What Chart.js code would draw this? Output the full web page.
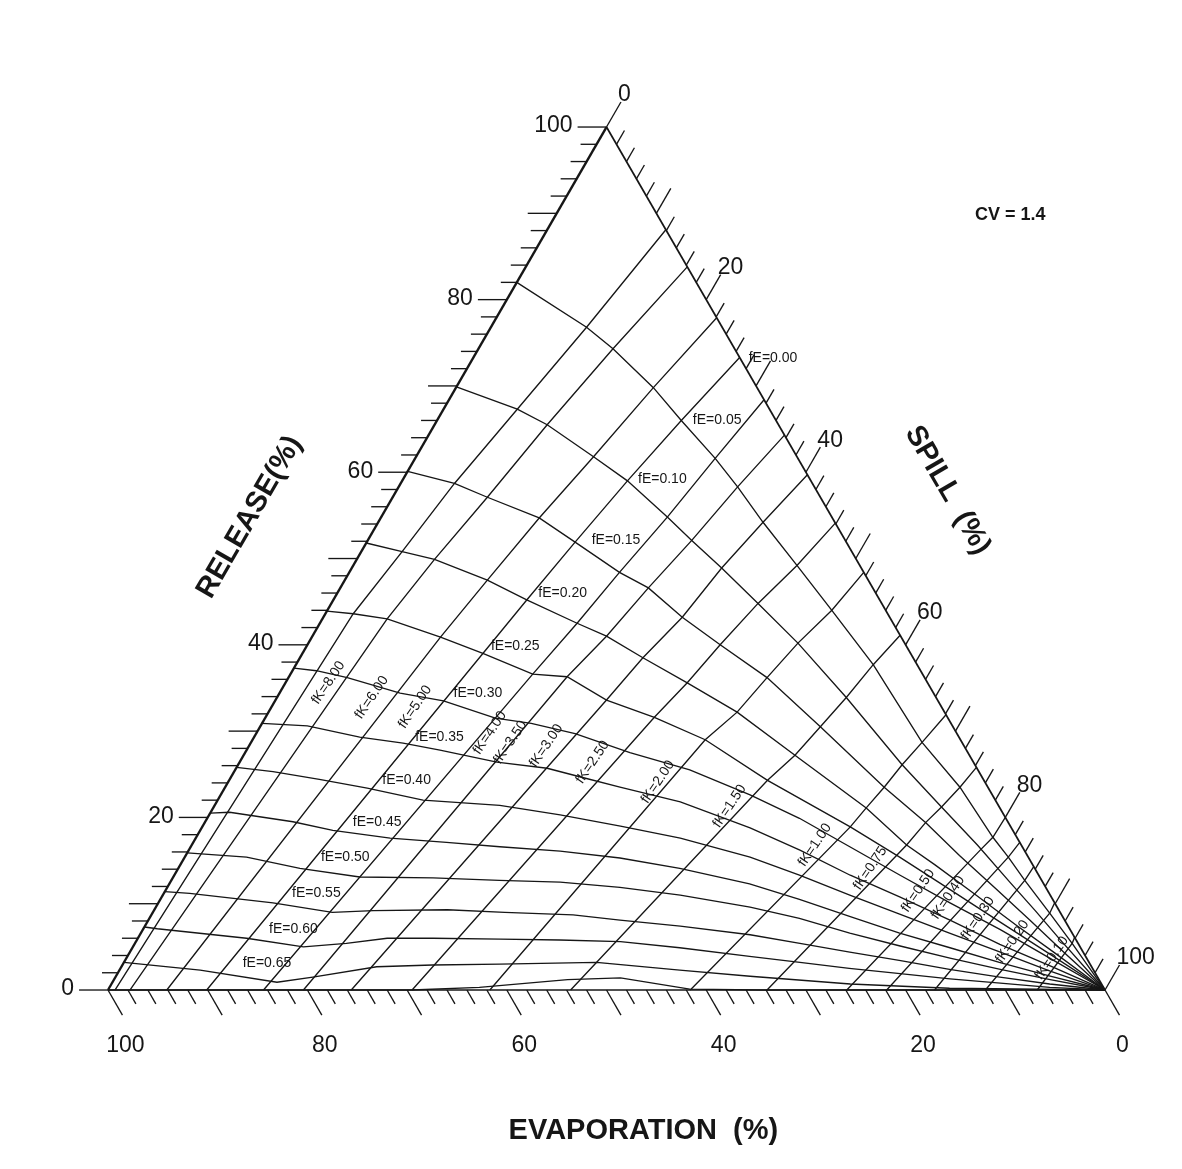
<!DOCTYPE html>
<html>
<head>
<meta charset="utf-8">
<script src="https://cdn.jsdelivr.net/npm/chart.js@4.4.1/dist/chart.umd.min.js"></script>
<style>
  html, body { margin: 0; padding: 0; background: #ffffff; }
  canvas { display: block; }
</style>
</head>
<body>
<canvas id="chart" width="1182" height="1169"></canvas>
<script>
// Ternary diagram: release / spill / evaporation shares (%) for CV = 1.4.
// Every point is [release %, spill %]; evaporation = 100 - release - spill.

const fELevels = ['0.05','0.10','0.15','0.20','0.25','0.30','0.35','0.40','0.45','0.50','0.55','0.60','0.65','0.70'];
const fKLevels = ['8.00','6.00','5.00','4.00','3.50','3.00','2.50','2.00','1.50','1.00','0.75','0.50','0.40','0.30','0.20','0.10'];
const axisTickValues = [0,2,4,6,8,10,12,14,16,18,20,22,24,26,28,30,32,34,36,38,40,42,44,46,48,50,52,54,56,58,60,62,64,66,68,70,72,74,76,78,80,82,84,86,88,90,92,94,96,98,100];
const axisLabelValues = [0, 20, 40, 60, 80, 100];

// constant-fE curves (fE = 0.00 is the evaporation = 0 side of the triangle)
const fE005 = [[82.0,0],[76.8,9.6],[74.3,13.5],[69.8,19.8],[66.0,24.5],[61.6,30.1],[58.3,34.0],[54.2,38.6],[49.2,44.5],[44.0,50.6],[37.7,57.9],[28.7,67.3],[23.5,73.7],[17.7,79.9],[15.4,82.6],[12.7,85.6],[8.9,90.0],[5.4,94.0],[0,100]];
const fE010 = [[69.9,0],[67.3,7.4],[65.5,11.3],[61.8,17.8],[59.0,22.6],[54.8,28.7],[52.1,32.5],[48.9,37.1],[44.8,42.8],[40.2,49.1],[33.9,57.1],[26.1,66.6],[21.2,73.0],[16.8,78.8],[12.5,84.2],[9.2,88.4],[5.9,92.5],[0,100]];
const fE015 = [[60.1,0],[58.7,5.4],[57.1,9.5],[54.7,15.9],[51.9,20.9],[48.4,27.1],[46.6,30.9],[43.2,36.0],[40.0,41.4],[36.2,48.0],[30.5,56.2],[23.5,66.1],[19.4,72.3],[15.6,77.6],[11.8,83.1],[8.1,88.4],[4.3,93.8],[0,100]];
const fE020 = [[51.8,0],[50.8,4.1],[49.9,7.8],[47.5,14.3],[45.2,19.4],[42.5,25.8],[41.0,29.5],[38.5,34.4],[35.6,40.3],[32.2,47.0],[27.2,55.3],[21.1,65.5],[16.8,71.7],[14.5,75.7],[11.1,81.4],[7.6,87.2],[4.3,92.8],[0,100]];
const fE025 = [[43.9,0],[43.6,2.8],[43.0,6.5],[40.9,12.9],[39.0,18.1],[36.6,24.3],[36.3,27.9],[33.6,33.2],[31.6,39.0],[29.0,45.4],[24.3,54.0],[18.9,65.0],[15.4,71.7],[11.6,78.7],[7.9,85.5],[4.1,92.5],[0,100]];
const fE030 = [[37.3,0],[37.0,2.4],[36.2,5.9],[34.4,12.1],[33.5,16.9],[31.5,23.1],[30.9,27.0],[29.7,32.0],[27.5,38.6],[25.5,45.6],[22.6,53.1],[19.9,59.4],[16.6,66.1],[13.3,72.8],[10.1,79.4],[7.0,86.0],[3.7,92.6],[0,100]];
const fE035 = [[30.9,0],[30.6,4.7],[29.3,10.6],[28.6,15.3],[27.8,19.4],[26.4,25.8],[25.7,31.2],[24.6,35.4],[23.5,39.6],[21.8,46.5],[18.8,55.0],[16.2,61.3],[13.3,67.8],[10.8,74.0],[8.1,80.4],[5.3,86.8],[2.8,93.1],[0,100]];
const fE040 = [[25.8,0],[25.3,3.9],[24.4,9.0],[23.4,14.3],[22.0,20.6],[21.4,28.6],[20.3,35.2],[19.0,41.9],[17.6,48.6],[15.4,56.7],[13.3,62.7],[11.0,68.9],[8.8,75.0],[6.6,81.1],[4.4,87.3],[2.2,93.4],[0,100]];
const fE045 = [[20.5,0],[20.6,1.9],[19.5,8.8],[18.5,13.3],[17.6,19.5],[17.1,25.4],[16.6,31.0],[16.1,37.3],[15.3,43.7],[14.1,50.3],[12.3,58.2],[10.5,64.1],[8.5,70.2],[6.6,76.1],[4.9,82.0],[3.2,87.8],[1.6,93.7],[0,100]];
const fE050 = [[15.9,0],[15.4,6.2],[14.1,12.2],[13.1,18.7],[13.0,26.1],[12.7,32.9],[12.5,39.1],[11.9,45.4],[11.0,51.9],[9.6,59.6],[8.3,65.2],[6.6,71.1],[5.1,76.9],[3.7,82.6],[2.4,88.3],[1.2,93.9],[0,100]];
const fE055 = [[11.4,0],[11.2,2.6],[10.1,11.5],[9.0,18.0],[9.2,22.0],[9.3,29.4],[9.0,35.3],[8.7,42.3],[8.1,47.3],[7.4,53.7],[6.4,61.2],[5.4,66.7],[4.4,72.2],[3.4,77.8],[2.4,83.2],[1.5,88.7],[0.7,94.1],[0,100]];
const fE060 = [[7.3,0],[7.1,1.4],[6.0,10.9],[5.0,17.1],[5.4,21.2],[6.0,25.0],[6.0,29.6],[5.9,36.4],[5.8,42.4],[5.6,48.6],[4.9,54.9],[3.9,62.4],[3.2,67.8],[2.5,73.1],[1.9,78.5],[1.3,83.8],[0.8,89.1],[0.3,94.3],[0,100]];
const fE065 = [[3.2,0],[2.3,8.1],[0.9,16.5],[1.5,19.8],[2.7,25.6],[2.9,31.1],[3.0,37.8],[3.2,47.4],[2.3,56.2],[1.6,63.6],[0.7,74.1],[0.2,84.3],[0,100]];
const fE070 = [[0,0],[0,30.5],[0.3,37.1],[1.2,45.5],[1.4,50.7],[0.1,58.3],[0,65.4],[0,100]];

// constant-fK lines, from the spill side (evaporation = 0) down to release = 0
const fKOuter = [[88.1,11.9],[76.8,9.6],[67.3,7.4],[58.7,5.4],[50.8,4.1],[43.6,2.8],[0,0.7]];   // unlabelled outer line
const fK800 = [[83.8,16.2],[74.3,13.5],[65.5,11.3],[57.1,9.5],[49.9,7.8],[43.0,6.5],[0,2.2]];
const fK600 = [[77.9,22.1],[69.8,19.8],[61.8,17.8],[54.7,15.9],[47.5,14.3],[40.9,12.9],[0,5.9]];
const fK500 = [[73.3,26.7],[66.0,24.5],[59.0,22.6],[51.9,20.9],[45.2,19.4],[39.0,18.1],[0,9.9]];
const fK400 = [[68.4,31.6],[61.6,30.1],[54.8,28.7],[48.4,27.1],[42.5,25.8],[36.6,24.3],[0,15.6]];
const fK350 = [[64.3,35.7],[58.3,34.0],[52.1,32.5],[46.6,30.9],[41.0,29.5],[36.3,27.9],[0,19.6]];
const fK300 = [[59.7,40.3],[54.2,38.6],[48.9,37.1],[43.2,36.0],[38.5,34.4],[33.6,33.2],[0,24.4]];
const fK250 = [[54.1,45.9],[49.2,44.5],[44.8,42.8],[40.0,41.4],[35.6,40.3],[31.6,39.0],[0,30.5]];
const fK200 = [[48.4,51.6],[44.0,50.6],[40.2,49.1],[36.2,48.0],[32.2,47.0],[29.0,45.4],[0,38.3]];
const fK150 = [[41.1,58.9],[37.7,57.9],[33.9,57.1],[30.5,56.2],[27.2,55.3],[24.3,54.0],[0,46.4]];
const fK100 = [[31.9,68.1],[28.7,67.3],[26.1,66.6],[23.5,66.1],[21.1,65.5],[18.9,65.0],[0,58.4]];
const fK075 = [[25.8,74.2],[23.5,73.7],[21.2,73.0],[19.4,72.3],[16.8,71.7],[0,66.1]];
const fK050 = [[20.0,80.0],[17.7,79.9],[16.3,79.4],[0,74.1]];
const fK040 = [[17.1,82.9],[15.4,82.6],[0,78.1]];
const fK030 = [[14.3,85.7],[12.7,85.6],[0,82.9]];
const fK020 = [[10.1,89.9],[8.9,90.0],[0,88.0]];
const fK010 = [[6.1,93.9],[5.4,94.0],[0,93.2]];

// where each curve name is written, [release %, spill %]
const fELabelAt = [[73.2,30.1],[66.0,28.1],[59.2,26.0],[52.1,24.9],[46.0,22.6],[39.9,20.9],[34.4,19.9],[29.3,18.6],[24.3,17.8],[19.4,17.3],[15.4,16.1],[11.2,15.3],[7.0,15.1],[3.1,14.4]];
const fELabelText = ['0.00','0.05','0.10','0.15','0.20','0.25','0.30','0.35','0.40','0.45','0.50','0.55','0.60','0.65'];
const fKLabelAt = [[35.6,4.3],[33.9,9.5],[32.8,14.4],[29.8,23.4],[28.7,26.0],[28.3,29.8],[26.4,35.4],[24.1,43.1],[21.3,51.7],[16.8,62.5],[14.1,69.4],[11.5,75.5],[10.7,78.9],[8.3,83.1],[5.6,87.9],[3.7,92.8]];

const fECurves = [fE005, fE010, fE015, fE020, fE025, fE030, fE035, fE040, fE045, fE050, fE055, fE060, fE065, fE070];
const fKLines = [fK800, fK600, fK500, fK400, fK350, fK300, fK250, fK200, fK150, fK100, fK075, fK050, fK040, fK030, fK020, fK010];

// ---------------------------------------------------------------------------
const INK = '#161616';
const FONT = '"Liberation Sans", Arial, Helvetica, sans-serif';

// cartesian placement of a ternary point: x across the base, y = release
const toXY = ([r, s]) => ({ x: s + r / 2, y: r });

function lineSet(label, pts, width) {
  return {
    label,
    data: pts.map(toXY),
    showLine: true,
    borderColor: INK,
    borderWidth: width,
    pointRadius: 0,
    pointHoverRadius: 0,
    tension: 0,
    fill: false,
    clip: false
  };
}

const datasets = [];
fECurves.forEach((c, i) => datasets.push(lineSet('fE=' + fELevels[i], c, 1.35)));
datasets.push(lineSet('fK outer', fKOuter, 1.35));
fKLines.forEach((c, i) => datasets.push(lineSet('fK=' + fKLevels[i], c, 1.35)));
datasets.push(lineSet('release axis', [[0,0],[100,0]], 2.4));
datasets.push(lineSet('spill axis', [[100,0],[0,100]], 1.7));
datasets.push(lineSet('evaporation axis', [[0,0],[0,100]], 1.6));

const TICK_LONG = 2.9, TICK_SHORT = 1.6;

const furniture = {
  id: 'ternaryFurniture',
  afterDatasetsDraw(chart) {
    const { ctx, scales } = chart;
    const at = (X, Y) => [scales.x.getPixelForValue(X), scales.y.getPixelForValue(Y)];
    const tern = ([r, s]) => at(s + r / 2, r);
    const seg = (a, b) => { ctx.beginPath(); ctx.moveTo(a[0], a[1]); ctx.lineTo(b[0], b[1]); ctx.stroke(); };

    ctx.save();
    ctx.strokeStyle = INK;
    ctx.fillStyle = INK;
    ctx.lineWidth = 1.35;
    ctx.lineCap = 'butt';

    // axis ticks
    axisTickValues.forEach(v => {
      const L = v % 10 === 0 ? TICK_LONG : TICK_SHORT;
      seg(at(v / 2, v), at(v / 2 - L, v));                                  // release (left)
      seg(at(100 - v, 0), at(100 - v + L / 2, -L));                          // evaporation (bottom)
      seg(at(50 + v / 2, 100 - v), at(50 + v / 2 + L / 2, 100 - v + L));    // spill (right)
    });

    // axis numbers
    ctx.font = '23px ' + FONT;
    ctx.textBaseline = 'middle';
    axisLabelValues.forEach(v => {
      let p = at(v / 2 - TICK_LONG, v);
      ctx.textAlign = 'right';
      ctx.fillText(String(v), p[0] - 5, p[1] - 1);

      p = at(100 - v + TICK_LONG / 2, -TICK_LONG);
      ctx.textAlign = 'center';
      ctx.fillText(String(v), p[0] + 3, p[1] + 31);

      p = at(50 + v / 2 + TICK_LONG / 2, 100 - v + TICK_LONG);
      ctx.textAlign = 'left';
      ctx.fillText(String(v), p[0] - 3, p[1] - 7);
    });

    // curve names
    ctx.font = '14px ' + FONT;
    ctx.textAlign = 'center';
    ctx.textBaseline = 'middle';
    fELabelAt.forEach((pt, i) => {
      const p = tern(pt);
      ctx.fillText('fE=' + fELabelText[i], p[0], p[1]);
    });
    fKLabelAt.forEach((pt, i) => {
      const p = tern(pt);
      ctx.save();
      ctx.translate(p[0], p[1]);
      ctx.rotate(-56 * Math.PI / 180);
      ctx.fillText('fK=' + fKLevels[i], 0, 0);
      ctx.restore();
    });

    // axis titles
    ctx.font = 'bold 29px ' + FONT;
    let p = at(53.7, -16.3);
    ctx.fillText('EVAPORATION  (%)', p[0], p[1]);

    p = at(14.2, 54.8);
    ctx.save();
    ctx.translate(p[0], p[1]);
    ctx.rotate(-60 * Math.PI / 180);
    ctx.fillText('RELEASE(%)', 0, 0);
    ctx.restore();

    p = at(84.2, 57.9);
    ctx.save();
    ctx.translate(p[0], p[1]);
    ctx.rotate(60 * Math.PI / 180);
    ctx.fillText('SPILL  (%)', 0, 0);
    ctx.restore();

    ctx.font = 'bold 18px ' + FONT;
    p = at(90.5, 89.8);
    ctx.fillText('CV = 1.4', p[0], p[1]);

    ctx.restore();
  }
};

new Chart(document.getElementById('chart').getContext('2d'), {
  type: 'scatter',
  data: { datasets },
  options: {
    responsive: false,
    animation: false,
    devicePixelRatio: 1,
    events: [],
    layout: { padding: 0 },
    plugins: { legend: { display: false }, tooltip: { enabled: false } },
    scales: {
      x: { type: 'linear', display: false, min: -10.83, max: 107.72 },
      y: { type: 'linear', display: false, min: -20.74, max: 114.72 }
    }
  },
  plugins: [furniture]
});
</script>
</body>
</html>
